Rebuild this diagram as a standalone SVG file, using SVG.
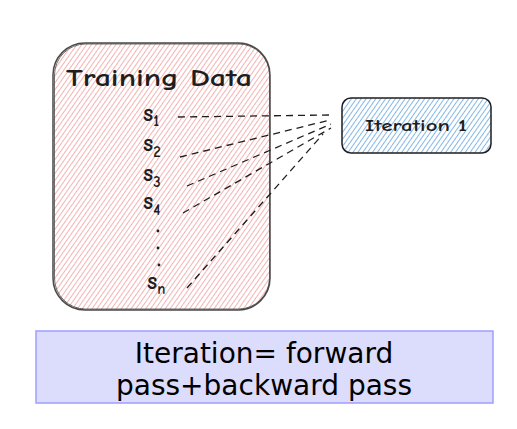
<svg xmlns="http://www.w3.org/2000/svg" width="517" height="429" viewBox="0 0 517 429">
<style>
.hand{font-family:"Comic Neue","DejaVu Sans",sans-serif;fill:#1e1e1e;font-weight:700}
.s{font-size:24px}
.sub{font-size:15px}
.conn{fill:none;stroke:#1e1e1e;stroke-width:1.3;stroke-dasharray:7 5}
.cap{font-family:"DejaVu Sans",sans-serif;font-size:28px;fill:#000;text-anchor:middle}
</style>
<defs>
<pattern id="hRed" patternUnits="userSpaceOnUse" width="4" height="5" patternTransform="rotate(35)">
<line x1="0" y1="0" x2="0" y2="5" stroke="#f2a0a0" stroke-width="1.6"/>
</pattern>
<pattern id="hBlue" patternUnits="userSpaceOnUse" width="4" height="5" patternTransform="rotate(35)">
<line x1="0" y1="0" x2="0" y2="5" stroke="#66a6e0" stroke-width="1.6"/>
</pattern>
</defs>
<rect width="517" height="429" fill="#fff"/>
<g id="training-data">
<rect x="53" y="43" width="217" height="267" rx="32" fill="url(#hRed)" stroke="#4a4a4a" stroke-width="1.5"/>
<rect x="54.5" y="44" width="215" height="265" rx="31" fill="none" stroke="#4a4a4a" stroke-width="0.8"/>
<text class="hand" x="66" y="86" font-size="25" textLength="186" lengthAdjust="spacingAndGlyphs">Training Data</text>
<text class="hand s" x="143" y="121">s<tspan class="sub" dy="5">1</tspan></text>
<text class="hand s" x="143" y="151">s<tspan class="sub" dy="6">2</tspan></text>
<text class="hand s" x="143" y="181">s<tspan class="sub" dy="6">3</tspan></text>
<text class="hand s" x="143" y="209">s<tspan class="sub" dy="6">4</tspan></text>
<circle cx="158" cy="231" r="1.4" fill="#1e1e1e"/>
<circle cx="158" cy="248" r="1.4" fill="#1e1e1e"/>
<circle cx="159" cy="265" r="1.4" fill="#1e1e1e"/>
<text class="hand s" x="147" y="289">s<tspan class="sub" dy="5">n</tspan></text>
</g>
<g id="iteration-1">
<rect x="342" y="98" width="149" height="55" rx="9" fill="url(#hBlue)" stroke="#1e1e1e" stroke-width="1.5"/>
<text class="hand" x="365" y="131" font-size="16" textLength="102" lengthAdjust="spacingAndGlyphs">Iteration 1</text>
</g>
<g id="connectors">
<path class="conn" d="M178 117 L330 115"/>
<path class="conn" d="M180 157 L330 120"/>
<path class="conn" d="M187 186 L331 124"/>
<path class="conn" d="M183 213 L331 128"/>
<path class="conn" d="M187 288 L323 134"/>
</g>
<g id="caption">
<rect x="36" y="331" width="457" height="72" fill="#dcdcfc" stroke="#9f9fff" stroke-width="1.5"/>
<text class="cap" x="264" y="363">Iteration= forward</text>
<text class="cap" x="264" y="395">pass+backward pass</text>
</g>
</svg>
